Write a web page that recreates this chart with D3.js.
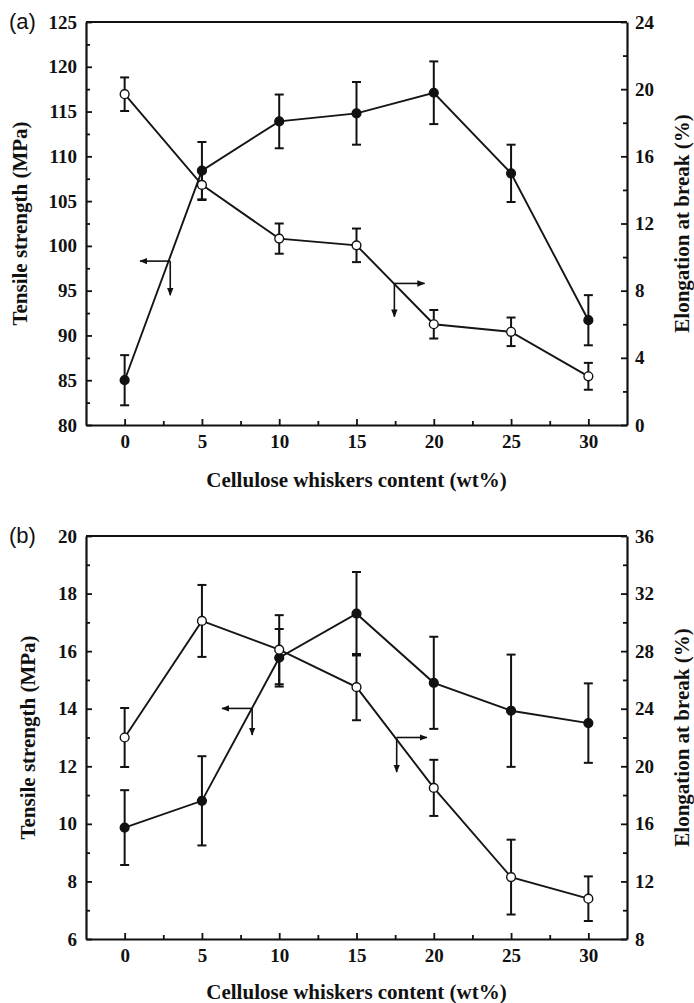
<!DOCTYPE html>
<html>
  <head>
    <title>Tensile / elongation</title>
    <script src="https://cdn.jsdelivr.net/npm/d3@7"></script>
    <style>
      body { margin: 0; background: #fff; }
    </style>
  </head>
  <body>
    <svg width="694" height="1003" id="mainsvg"></svg>
    <script>
      // whisker content (wt%) shared by both panels
      const content = [0, 5, 10, 15, 20, 25, 30];
      const xTicks = [0, 5, 10, 15, 20, 25, 30];

      // panel (a)
      const tensileA = [85.0, 108.4, 113.9, 114.8, 117.1, 108.1, 91.7];
      const tensileErrA = [2.8, 3.2, 3.0, 3.5, 3.5, 3.2, 2.8];
      const elongA = [19.7, 14.3, 11.1, 10.7, 6.0, 5.55, 2.9];
      const elongErrA = [1.0, 0.9, 0.9, 1.0, 0.85, 0.85, 0.8];
      const leftTicksA = [80, 85, 90, 95, 100, 105, 110, 115, 120, 125];
      const rightTicksA = [0, 4, 8, 12, 16, 20, 24];

      // panel (b)
      const tensileB = [9.87, 10.8, 15.77, 17.3, 14.9, 13.93, 13.5];
      const tensileErrB = [1.3, 1.55, 1.0, 1.45, 1.6, 1.95, 1.38];
      const elongB = [22.0, 30.1, 28.1, 25.5, 18.5, 12.3, 10.8];
      const elongErrB = [2.05, 2.5, 2.4, 2.3, 1.95, 2.6, 1.55];
      const leftTicksB = [6, 8, 10, 12, 14, 16, 18, 20];
      const rightTicksB = [8, 12, 16, 20, 24, 28, 32, 36];

      const svg = d3.select('#mainsvg');
      const serif = '"Liberation Serif", "Times New Roman", serif';

      const panels = [
        {
          tag: '(a)', top: 22, bottom: 425,
          tensile: tensileA, tErr: tensileErrA, elong: elongA, eErr: elongErrA,
          left: [80, 125], leftTicks: leftTicksA, leftMinor: 2.5,
          right: [0, 24], rightTicks: rightTicksA, rightMinor: 2,
          // arrows in data units: [corner x, corner y, end x, end y]
          arrowL: [2.95, 98.3, 1.0, 94.5],
          arrowR: [17.45, 8.43, 19.4, 6.45],
          titleLX: 27, xTitleY: 487
        },
        {
          tag: '(b)', top: 536, bottom: 939,
          tensile: tensileB, tErr: tensileErrB, elong: elongB, eErr: elongErrB,
          left: [6, 20], leftTicks: leftTicksB, leftMinor: 1,
          right: [8, 36], rightTicks: rightTicksB, rightMinor: 2,
          arrowL: [8.25, 14.01, 6.3, 13.09],
          arrowR: [17.6, 22.0, 19.55, 19.6],
          titleLX: 35, xTitleY: 999
        }
      ];

      const x0 = 86, x1 = 627;

      const minorVals = (dom, step, major) => d3.range(dom[0], dom[1] + 1e-9, step)
        .filter(v => !major.some(m => Math.abs(m - v) < 1e-6));

      svg.append('defs').append('marker')
        .attr('id', 'head').attr('viewBox', '0 0 10 10')
        .attr('refX', 9).attr('refY', 5)
        .attr('markerWidth', 5).attr('markerHeight', 5)
        .attr('orient', 'auto-start-reverse')
        .append('path').attr('d', 'M0,1 L10,5 L0,9 Z').attr('fill', '#111');

      panels.forEach(p => {
        const g = svg.append('g');
        const x = d3.scaleLinear().domain([-2.5, 32.5]).range([x0, x1]);
        const yL = d3.scaleLinear().domain(p.left).range([p.bottom, p.top]);
        const yR = d3.scaleLinear().domain(p.right).range([p.bottom, p.top]);

        // minor ticks
        const xMinor = minorVals([-2.5, 32.5], 2.5, xTicks).filter(v => v > -2 && v < 32);
        g.append('g').attr('transform', `translate(0,${p.bottom})`)
          .call(d3.axisBottom(x).tickValues(xMinor).tickSize(-4).tickFormat(''))
          .call(a => a.select('.domain').remove());
        g.append('g').attr('transform', `translate(${x0},0)`)
          .call(d3.axisLeft(yL).tickValues(minorVals(p.left, p.leftMinor, p.leftTicks)).tickSize(-4).tickFormat(''))
          .call(a => a.select('.domain').remove());
        g.append('g').attr('transform', `translate(${x1},0)`)
          .call(d3.axisRight(yR).tickValues(minorVals(p.right, p.rightMinor, p.rightTicks)).tickSize(-4).tickFormat(''))
          .call(a => a.select('.domain').remove());

        // major axes
        const xa = g.append('g').attr('transform', `translate(0,${p.bottom})`)
          .call(d3.axisBottom(x).tickValues(xTicks).tickSize(-6).tickSizeOuter(0).tickPadding(10));
        const la = g.append('g').attr('transform', `translate(${x0},0)`)
          .call(d3.axisLeft(yL).tickValues(p.leftTicks).tickSize(-6).tickSizeOuter(0).tickPadding(9));
        const ra = g.append('g').attr('transform', `translate(${x1},0)`)
          .call(d3.axisRight(yR).tickValues(p.rightTicks).tickSize(-6).tickSizeOuter(0).tickPadding(8));
        [xa, la, ra].forEach(a => {
          a.attr('font-family', serif).attr('font-size', 19).attr('font-weight', 'bold');
          a.selectAll('.tick text')
            .attr('font-family', serif).attr('font-weight', 'bold')
            .attr('font-size', 19).attr('fill', '#111');
        });
        g.selectAll('.domain').attr('stroke', '#111').attr('stroke-width', 2.2);
        g.selectAll('.tick line').attr('stroke', '#111').attr('stroke-width', 1.8);

        // top frame
        g.append('line').attr('x1', x0).attr('x2', x1)
          .attr('y1', p.top).attr('y2', p.top)
          .attr('stroke', '#111').attr('stroke-width', 2.2);

        // series
        const series = [
          {vals: p.tensile, err: p.tErr, y: yL, fill: '#111'},
          {vals: p.elong, err: p.eErr, y: yR, fill: '#fff'}
        ];
        series.forEach(s => {
          const pts = content.map((c, i) => ({c: c, v: s.vals[i], e: s.err[i]}));
          g.append('path').datum(pts)
            .attr('fill', 'none').attr('stroke', '#151515').attr('stroke-width', 1.9)
            .attr('d', d3.line().x(d => x(d.c)).y(d => s.y(d.v)));
          const eb = g.append('g').selectAll('g').data(pts).join('g')
            .attr('stroke', '#111').attr('stroke-width', 2);
          eb.append('line')
            .attr('x1', d => x(d.c)).attr('x2', d => x(d.c))
            .attr('y1', d => s.y(d.v - d.e)).attr('y2', d => s.y(d.v + d.e));
          [-1, 1].forEach(sign => {
            eb.append('line')
              .attr('x1', d => x(d.c) - 4.5).attr('x2', d => x(d.c) + 4.5)
              .attr('y1', d => s.y(d.v + sign * d.e)).attr('y2', d => s.y(d.v + sign * d.e));
          });
          g.append('g').selectAll('circle').data(pts).join('circle')
            .attr('cx', d => x(d.c)).attr('cy', d => s.y(d.v)).attr('r', 4.4)
            .attr('fill', s.fill).attr('stroke', '#111').attr('stroke-width', 1.4);
        });

        // axis-pointer arrows
        const drawArrow = (a, ys) => {
          g.append('line').attr('x1', x(a[0])).attr('y1', ys(a[1]))
            .attr('x2', x(a[2])).attr('y2', ys(a[1]))
            .attr('stroke', '#111').attr('stroke-width', 1.6).attr('marker-end', 'url(#head)');
          g.append('line').attr('x1', x(a[0])).attr('y1', ys(a[1]))
            .attr('x2', x(a[0])).attr('y2', ys(a[3]))
            .attr('stroke', '#111').attr('stroke-width', 1.6).attr('marker-end', 'url(#head)');
        };
        drawArrow(p.arrowL, yL);
        drawArrow(p.arrowR, yR);

        // titles
        const midY = (p.top + p.bottom) / 2;
        g.append('text').attr('transform', `translate(${p.titleLX},${midY}) rotate(-90)`)
          .attr('text-anchor', 'middle').attr('font-family', serif).attr('font-weight', 'bold')
          .attr('font-size', 21).attr('fill', '#111').text('Tensile strength (MPa)');
        g.append('text').attr('transform', `translate(689,${midY}) rotate(-90)`)
          .attr('text-anchor', 'middle').attr('font-family', serif).attr('font-weight', 'bold')
          .attr('font-size', 21).attr('fill', '#111').text('Elongation at break (%)');
        g.append('text').attr('x', (x0 + x1) / 2).attr('y', p.xTitleY)
          .attr('text-anchor', 'middle').attr('font-family', serif).attr('font-weight', 'bold')
          .attr('font-size', 21).attr('fill', '#111').text('Cellulose whiskers content (wt%)');
        g.append('text').attr('x', 9).attr('y', p.top + 7)
          .attr('font-family', '"Liberation Sans", Arial, sans-serif')
          .attr('font-size', 22).attr('fill', '#111').text(p.tag);
      });
    </script>
  </body>
</html>
